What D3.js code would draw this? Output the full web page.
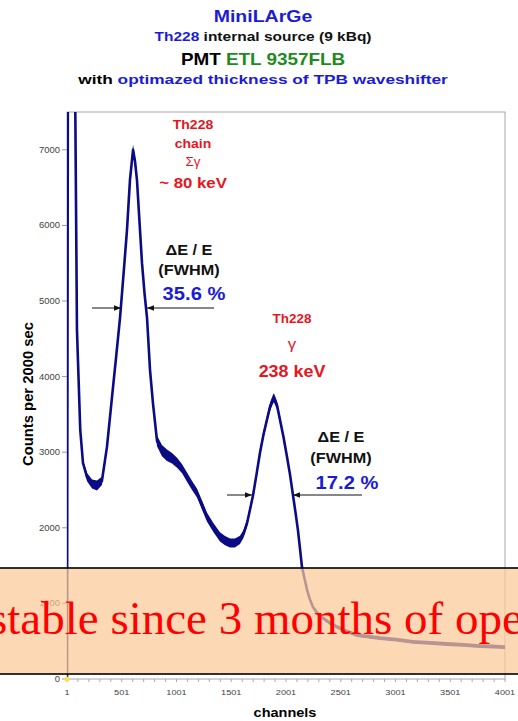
<!DOCTYPE html>
<html><head><meta charset="utf-8">
<script src="https://cdn.jsdelivr.net/npm/d3@7"></script>
<style>html,body{margin:0;padding:0;background:#fff;overflow:hidden}</style>
</head><body>
<svg id="c" width="518" height="721"></svg>
<script>
// ---- data ----
const channels = [1, 10, 30, 77, 92, 122, 147, 184, 230, 275, 320, 366, 412, 449, 485, 517, 549, 576, 604, 622, 640, 663, 686, 709, 732, 759, 786, 823, 868, 914, 960, 1006, 1052, 1097, 1143, 1188, 1234, 1280, 1339, 1398, 1444, 1490, 1535, 1581, 1613, 1645, 1672, 1700, 1731, 1763, 1795, 1827, 1855, 1882, 1891, 1919, 1946, 1978, 2010, 2038, 2065, 2088, 2110, 2129, 2147, 2170, 2193, 2220, 2248, 2294, 2339, 2403, 2467, 2558, 2649, 2754, 2859, 3010, 3161, 3316, 3471, 3622, 3773, 3887, 4001];
const counts   = [0, 9000, 16000, 7500, 4616, 3294, 2857, 2670, 2580, 2560, 2620, 3070, 3730, 4250, 4775, 5350, 5940, 6600, 7000, 6850, 6600, 6050, 5500, 5100, 4775, 4090, 3650, 3150, 3020, 2960, 2920, 2860, 2780, 2670, 2560, 2460, 2300, 2140, 2000, 1880, 1830, 1800, 1800, 1840, 1920, 2060, 2240, 2430, 2700, 2990, 3230, 3430, 3600, 3700, 3720, 3620, 3430, 3200, 2940, 2700, 2430, 2200, 1970, 1720, 1480, 1330, 1180, 1050, 950, 860, 805, 740, 690, 630, 580, 560, 540, 520, 490, 478, 463, 450, 436, 430, 423];
const noise    = [0, 0, 0, 0, 20, 30, 40, 55, 60, 65, 55, 45, 40, 40, 40, 45, 50, 60, 70, 60, 50, 45, 40, 40, 40, 45, 60, 70, 75, 75, 70, 65, 60, 60, 60, 60, 60, 60, 60, 60, 60, 60, 60, 55, 50, 45, 45, 45, 45, 45, 45, 50, 55, 60, 60, 55, 45, 40, 35, 30, 30, 30, 25, 25, 25, 25, 25, 25, 25, 25, 25, 25, 25, 25, 25, 25, 25, 25, 25, 25, 25, 25, 25, 25, 25];
const yTicks = [0, 1000, 2000, 3000, 4000, 5000, 6000, 7000];
const xTicks = [1, 501, 1001, 1501, 2001, 2501, 3001, 3501, 4001];
const titleLines = [
  [["MiniLArGe", "#1b1bd6"]],
  [["Th228", "#1b1bd6"], [" internal source (9 kBq)", "#111"]],
  [["PMT ", "#000"], ["ETL 9357FLB", "#1f8a1f"]],
  [["with ", "#000"], ["optimazed thickness of TPB waveshifter", "#1b1bd6"]]
];
const peak1Label = ["Th228", "chain", "\u03A3\u03B3", "~ 80 keV"];
const peak2Label = ["Th228", "\u03B3", "238 keV"];
const res1 = ["\u0394E / E", "(FWHM)", "35.6 %"];
const res2 = ["\u0394E / E", "(FWHM)", "17.2 %"];
const yTitle = "Counts per 2000 sec";
const xTitle = "channels";
const banner = "stable since 3 months of operation";

// ---- drawing ----
const svg = d3.select("#c");
const W = 518, H = 721;
const x = d3.scaleLinear().domain([1, 4001]).range([67, 505]);
const y = d3.scaleLinear().domain([0, 7500]).range([679, 112]);
const F = "'Liberation Sans', Arial, sans-serif";

function label(px, py, parts, o) {
  const t = svg.append("text")
    .attr("transform", `translate(${px},${py}) scale(${o.sx || 1},1)` + (o.rot ? ` rotate(${o.rot})` : ""))
    .attr("text-anchor", o.anchor || "middle")
    .attr("font-family", o.family || F)
    .attr("font-weight", o.weight || "bold")
    .attr("font-size", o.size);
  parts.forEach(p => t.append("tspan").attr("fill", p[1]).text(p[0]));
  return t;
}

// titles
const tY = [22, 41, 65, 84], tS = [16, 12.5, 16, 13.5], tX = [1.22, 1.24, 1.18, 1.28];
titleLines.forEach((l, i) => label(263, tY[i], l, {size: tS[i], sx: tX[i]}));

// frame
svg.append("rect").attr("x", x(1)).attr("y", y(7500)).attr("width", x(4001) - x(1)).attr("height", y(0) - y(7500))
  .attr("fill", "none").attr("stroke", "#a8a8a8").attr("stroke-width", 1);

// y axis ticks
const gy = svg.append("g");
yTicks.forEach(v => {
  gy.append("line").attr("x1", x(1) - 5).attr("x2", x(1)).attr("y1", y(v)).attr("y2", y(v)).attr("stroke", "#999");
  label(x(1) - 7, y(v) + 3, [[String(v), "#444"]], {size: 9, weight: "normal", anchor: "end", sx: 1.05});
});
// x axis ticks
const gx = svg.append("g");
d3.range(1, 4002, 100).forEach(v => {
  gx.append("line").attr("x1", x(v)).attr("x2", x(v)).attr("y1", y(0)).attr("y2", y(0) + 3).attr("stroke", "#aaa");
});
xTicks.forEach(v => label(x(v), 695, [[String(v), "#444"]], {size: 8, weight: "normal", sx: 1.15}));

label(33, 394, [[yTitle, "#000"]], {size: 14.8, sx: 1, rot: -90});
label(285, 717, [[xTitle, "#000"]], {size: 12.5, sx: 1.16});

// spectrum
const data = channels.map((c, i) => ({c, v: counts[i], n: noise[i]}));
svg.append("clipPath").attr("id", "clip").append("rect")
  .attr("x", x(1)).attr("y", y(7500)).attr("width", x(4001) - x(1) + 1).attr("height", y(0) - y(7500));
const g = svg.append("g").attr("clip-path", "url(#clip)");
g.append("path").datum(data)
  .attr("d", d3.area().x(d => x(d.c)).y0(d => y(d.v - d.n)).y1(d => y(d.v + d.n)))
  .attr("fill", "#0b0b85");
g.append("path").datum(data)
  .attr("d", d3.line().x(d => x(d.c)).y(d => y(d.v)))
  .attr("fill", "none").attr("stroke", "#0b0b85").attr("stroke-width", 2.6).attr("stroke-linejoin", "round");

svg.append("circle").attr("cx", x(1)).attr("cy", y(0)).attr("r", 2.5).attr("fill", "#ffe040");

// annotations
const red = "#e8141e", blue = "#1b1bd6";
const p1Y = [129, 148, 166, 188], p1S = [12.5, 12.5, 12, 15];
peak1Label.forEach((t, i) => label(193, p1Y[i], [[t, red]], {size: p1S[i], sx: 1.12, weight: i === 2 ? "normal" : "bold"}));
const p2Y = [323, 349, 377], p2S = [12, 15, 16];
peak2Label.forEach((t, i) => label(292, p2Y[i], [[t, red]], {size: p2S[i], sx: 1.12, weight: i === 1 ? "normal" : "bold"}));
const rY1 = [255, 275, 300], rS = [14.5, 14.5, 18];
res1.forEach((t, i) => label(i === 2 ? 194 : 189, rY1[i], [[t, i === 2 ? blue : "#111"]], {size: rS[i], sx: 1.12}));
const rY2 = [442, 463, 489];
res2.forEach((t, i) => label(i === 2 ? 347 : 341, rY2[i], [[t, i === 2 ? blue : "#111"]], {size: rS[i], sx: 1.12}));

// arrows
const defs = svg.append("defs");
defs.append("marker").attr("id", "ah").attr("viewBox", "0 0 10 10").attr("refX", 10).attr("refY", 5)
  .attr("markerWidth", 7).attr("markerHeight", 7).attr("orient", "auto-start-reverse")
  .append("path").attr("d", "M0,1 L10,5 L0,9 Z").attr("fill", "#111");
function arrow(x1, x2, yy) {
  svg.append("line").attr("x1", x1).attr("x2", x2).attr("y1", yy).attr("y2", yy)
    .attr("stroke", "#111").attr("stroke-width", 1).attr("marker-end", "url(#ah)");
}
arrow(92, 121, 308); arrow(214, 147, 308);
arrow(227, 252, 495); arrow(362, 293, 495);

// banner overlay
svg.append("rect").attr("x", -2).attr("y", 568).attr("width", W + 4).attr("height", 106)
  .attr("fill", "rgb(251,202,151)").attr("fill-opacity", 0.72)
  .attr("stroke", "#000").attr("stroke-width", 1.6);
svg.append("text").attr("x", -11).attr("y", 634)
  .attr("font-family", "'Liberation Serif', 'Times New Roman', serif").attr("font-size", 47)
  .attr("fill", "#ff0000").text(banner);
</script>
</body></html>
